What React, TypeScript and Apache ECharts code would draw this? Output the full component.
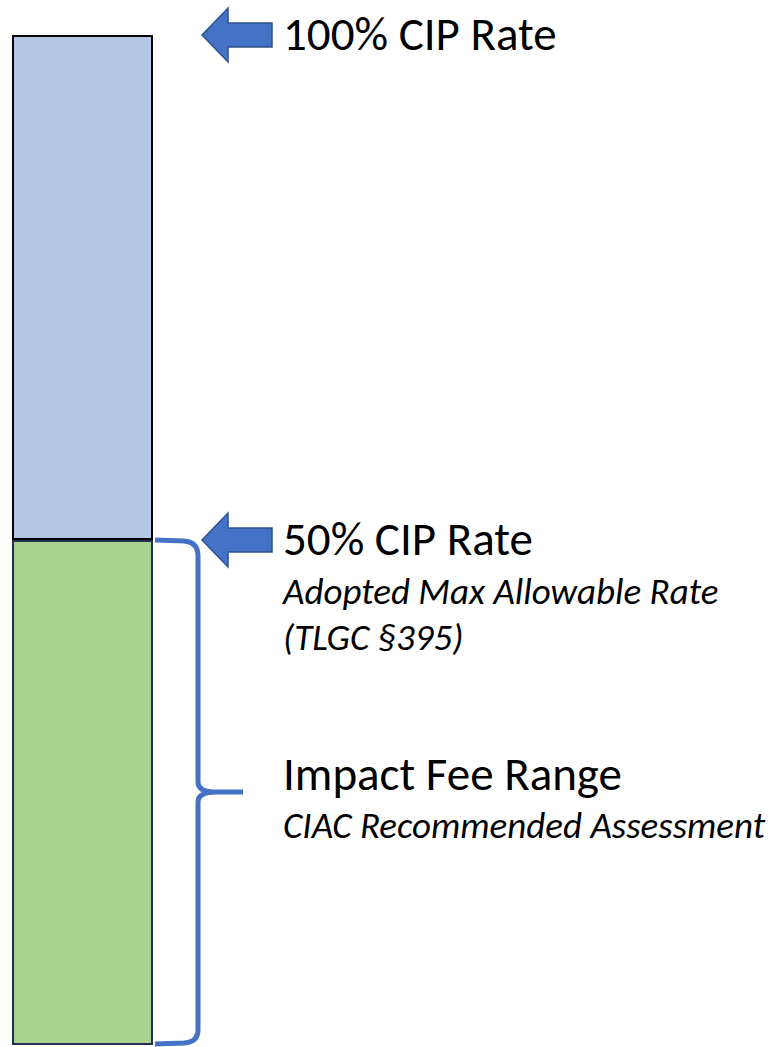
import React, { useEffect, useRef } from "react";
import * as echarts from "echarts";

// ---- data ----
const categories = ["CIP Rate"];
const impactFeeRange = [50]; // bottom (green) segment, % of CIP rate
const remainingToFull = [50]; // top (blue) segment, % of CIP rate
const markerLevels = [100, 50];
const markerLabels = ["100% CIP Rate", "50% CIP Rate"];
const adoptedNote = ["Adopted Max Allowable Rate", "(TLGC §395)"];
const rangeLabel = "Impact Fee Range";
const rangeNote = "CIAC Recommended Assessment";

// ---- layout / style ----
const W = 778;
const H = 1047;
const GRID_LEFT = 12;
const GRID_WIDTH = 141;
const GRID_TOP = 35;
const GRID_BOTTOM = 2;
const BLUE = "#4472C4";
const FONT = "Carlito, Lato, 'Open Sans', sans-serif";
const BIG = 47;
const SMALL = 37;

const Brace = (echarts.graphic as any).extendShape({
  type: "brace",
  shape: { x0: 0, xv: 0, xt: 0, y1: 0, y2: 0 },
  buildPath(ctx: any, s: any) {
    const ym = (s.y1 + s.y2) / 2;
    const r = 14;
    ctx.moveTo(s.x0, s.y1);
    ctx.lineTo(s.xv - r, s.y1 + 1);
    ctx.quadraticCurveTo(s.xv, s.y1 + 2, s.xv, s.y1 + r + 2);
    ctx.lineTo(s.xv, ym - 10);
    ctx.quadraticCurveTo(s.xv, ym, s.xv + r + 4, ym);
    ctx.lineTo(s.xt, ym);
    ctx.moveTo(s.xv + r + 4, ym);
    ctx.quadraticCurveTo(s.xv, ym, s.xv, ym + 10);
    ctx.lineTo(s.xv, s.y2 - r);
    ctx.quadraticCurveTo(s.xv, s.y2 - 2, s.xv - r, s.y2 - 1);
    ctx.lineTo(s.x0, s.y2);
  },
});
echarts.graphic.registerShape("brace", Brace);

function arrow(tipX: number, y: number) {
  const headX = tipX + 26;
  const endX = tipX + 70;
  return {
    type: "polygon",
    shape: {
      points: [
        [tipX, y],
        [headX, y - 27],
        [headX, y - 12],
        [endX, y - 12],
        [endX, y + 12],
        [headX, y + 12],
        [headX, y + 27],
      ],
    },
    style: { fill: BLUE, stroke: "#2F528F", lineWidth: 1.5 },
  };
}

function label(text: string, x: number, y: number, size: number, italic: boolean) {
  return {
    type: "text",
    style: {
      text,
      x,
      y,
      fill: "#000",
      fontSize: size,
      fontFamily: FONT,
      fontStyle: italic ? "italic" : "normal",
      align: "left",
      verticalAlign: "middle",
    },
  };
}

export default function App() {
  const ref = useRef<HTMLDivElement>(null);
  useEffect(() => {
    const chart = echarts.init(ref.current!, null, { renderer: "svg" });
    chart.setOption({
      animation: false,
      grid: { left: GRID_LEFT, width: GRID_WIDTH, top: GRID_TOP, bottom: GRID_BOTTOM },
      xAxis: { type: "category", data: categories, show: false },
      yAxis: { type: "value", min: 0, max: 100, show: false },
      series: [
        {
          type: "bar",
          stack: "cip",
          data: impactFeeRange,
          barWidth: "100%",
          itemStyle: { color: "#A9D18E", borderColor: "#1F3050", borderWidth: 2 },
        },
        {
          type: "bar",
          stack: "cip",
          data: remainingToFull,
          barWidth: "100%",
          itemStyle: { color: "#B4C7E7", borderColor: "#000", borderWidth: 2 },
        },
      ],
    });

    const py = (v: number) => chart.convertToPixel({ yAxisIndex: 0 }, v) as number;
    const barRight = GRID_LEFT + GRID_WIDTH;
    const tipX = barRight + 49;
    const textX = barRight + 130;
    const yLow = py(markerLevels[1]);
    const yZero = py(0);
    const yBraceMid = (yLow + yZero) / 2;

    const graphic: any[] = [];
    markerLevels.forEach((lv, i) => {
      const y = py(lv);
      graphic.push(arrow(tipX, y));
      graphic.push(label(markerLabels[i], textX, y - 1, BIG, false));
    });
    graphic.push(label(adoptedNote[0], textX, yLow + 51, SMALL, true));
    graphic.push(label(adoptedNote[1], textX, yLow + 97, SMALL, true));
    graphic.push(label(rangeLabel, textX, yBraceMid - 19, BIG, false));
    graphic.push(label(rangeNote, textX, yBraceMid + 33, SMALL, true));
    graphic.push({
      type: "brace",
      shape: { x0: barRight + 2, xv: barRight + 45, xt: barRight + 90, y1: yLow, y2: yZero - 1 },
      style: { stroke: BLUE, lineWidth: 5, fill: "none" },
    });
    chart.setOption({ graphic });

    return () => chart.dispose();
  }, []);
  return (
    <div
      ref={ref}
      style={{ position: "absolute", left: 0, top: 0, width: W, height: H, background: "#fff" }}
    />
  );
}
